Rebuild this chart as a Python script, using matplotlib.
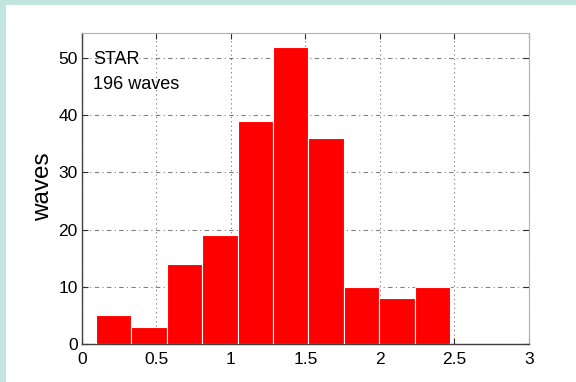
import matplotlib
matplotlib.use("Agg")
import matplotlib.pyplot as plt
from matplotlib.patches import Rectangle
import numpy as np

# histogram of wave values (STAR)
bin_edges = [0.095, 0.3325, 0.57, 0.8075, 1.045, 1.2825, 1.52, 1.7575, 1.995, 2.2325, 2.47]
counts = [5, 3, 14, 19, 39, 52, 36, 10, 8, 10]
x_ticks = [0, 0.5, 1, 1.5, 2, 2.5, 3]
x_ticklabels = ["0", "0.5", "1", "1.5", "2", "2.5", "3"]
y_ticks = [0, 10, 20, 30, 40, 50]
title_line = "STAR"
count_line = "196 waves"

plt.rcParams["font.family"] = ["Liberation Sans", "DejaVu Sans"]

W, H = 576, 382
fig = plt.figure(figsize=(W / 100, H / 100), dpi=100, facecolor="white")
# teal frame along the left and top edges
teal = "#c4e4e0"
fig.add_artist(Rectangle((0, 0), 6 / W, 1, transform=fig.transFigure,
                         facecolor=teal, edgecolor="none", zorder=-10))
fig.add_artist(Rectangle((0, 1 - 5 / H), 1, 5 / H, transform=fig.transFigure,
                         facecolor=teal, edgecolor="none", zorder=-10))

ax = fig.add_axes([81.7 / W, 1 - 344 / H, (529 - 81.7) / W, (344 - 33) / H])
ax.set_facecolor("white")

widths = np.diff(bin_edges)
ax.bar(bin_edges[:-1], counts, width=widths, align="edge", color="#ff0000",
       edgecolor="white", linewidth=0.8, zorder=3)

ax.set_xlim(0, 3)
ax.set_ylim(0, 54.4)
ax.set_xticks(x_ticks)
ax.set_xticklabels(x_ticklabels)
ax.set_yticks(y_ticks)

ax.xaxis.grid(True, linestyle=(0, (1, 3)), color="#707070", linewidth=0.8, zorder=1)
ax.yaxis.grid(True, linestyle=(0, (4, 3, 1, 3)), color="#808080", linewidth=0.8, zorder=1)
ax.set_axisbelow(True)

ax.tick_params(direction="in", top=True, right=True, length=4, width=0.8,
               colors="#303030", labelsize=12.5)
ax.tick_params(axis="x", pad=6)
ax.tick_params(axis="y", pad=3)
for lab in ax.get_xticklabels() + ax.get_yticklabels():
    lab.set_color("black")
for side in ("left", "bottom"):
    ax.spines[side].set_color("#404040")
    ax.spines[side].set_linewidth(1.0)
for side in ("top", "right"):
    ax.spines[side].set_color("#b0b0b0")
    ax.spines[side].set_linewidth(0.8)

fig.text(43 / W, 1 - 187 / H, "waves", rotation=90, fontsize=17.5,
         ha="center", va="center")
ax.text(0.074, 48.9, title_line, fontsize=13, ha="left", va="baseline", zorder=5)
ax.text(0.074, 44.6, count_line, fontsize=13, ha="left", va="baseline", zorder=5)

fig.savefig("out.png", dpi=100, facecolor=fig.get_facecolor())
